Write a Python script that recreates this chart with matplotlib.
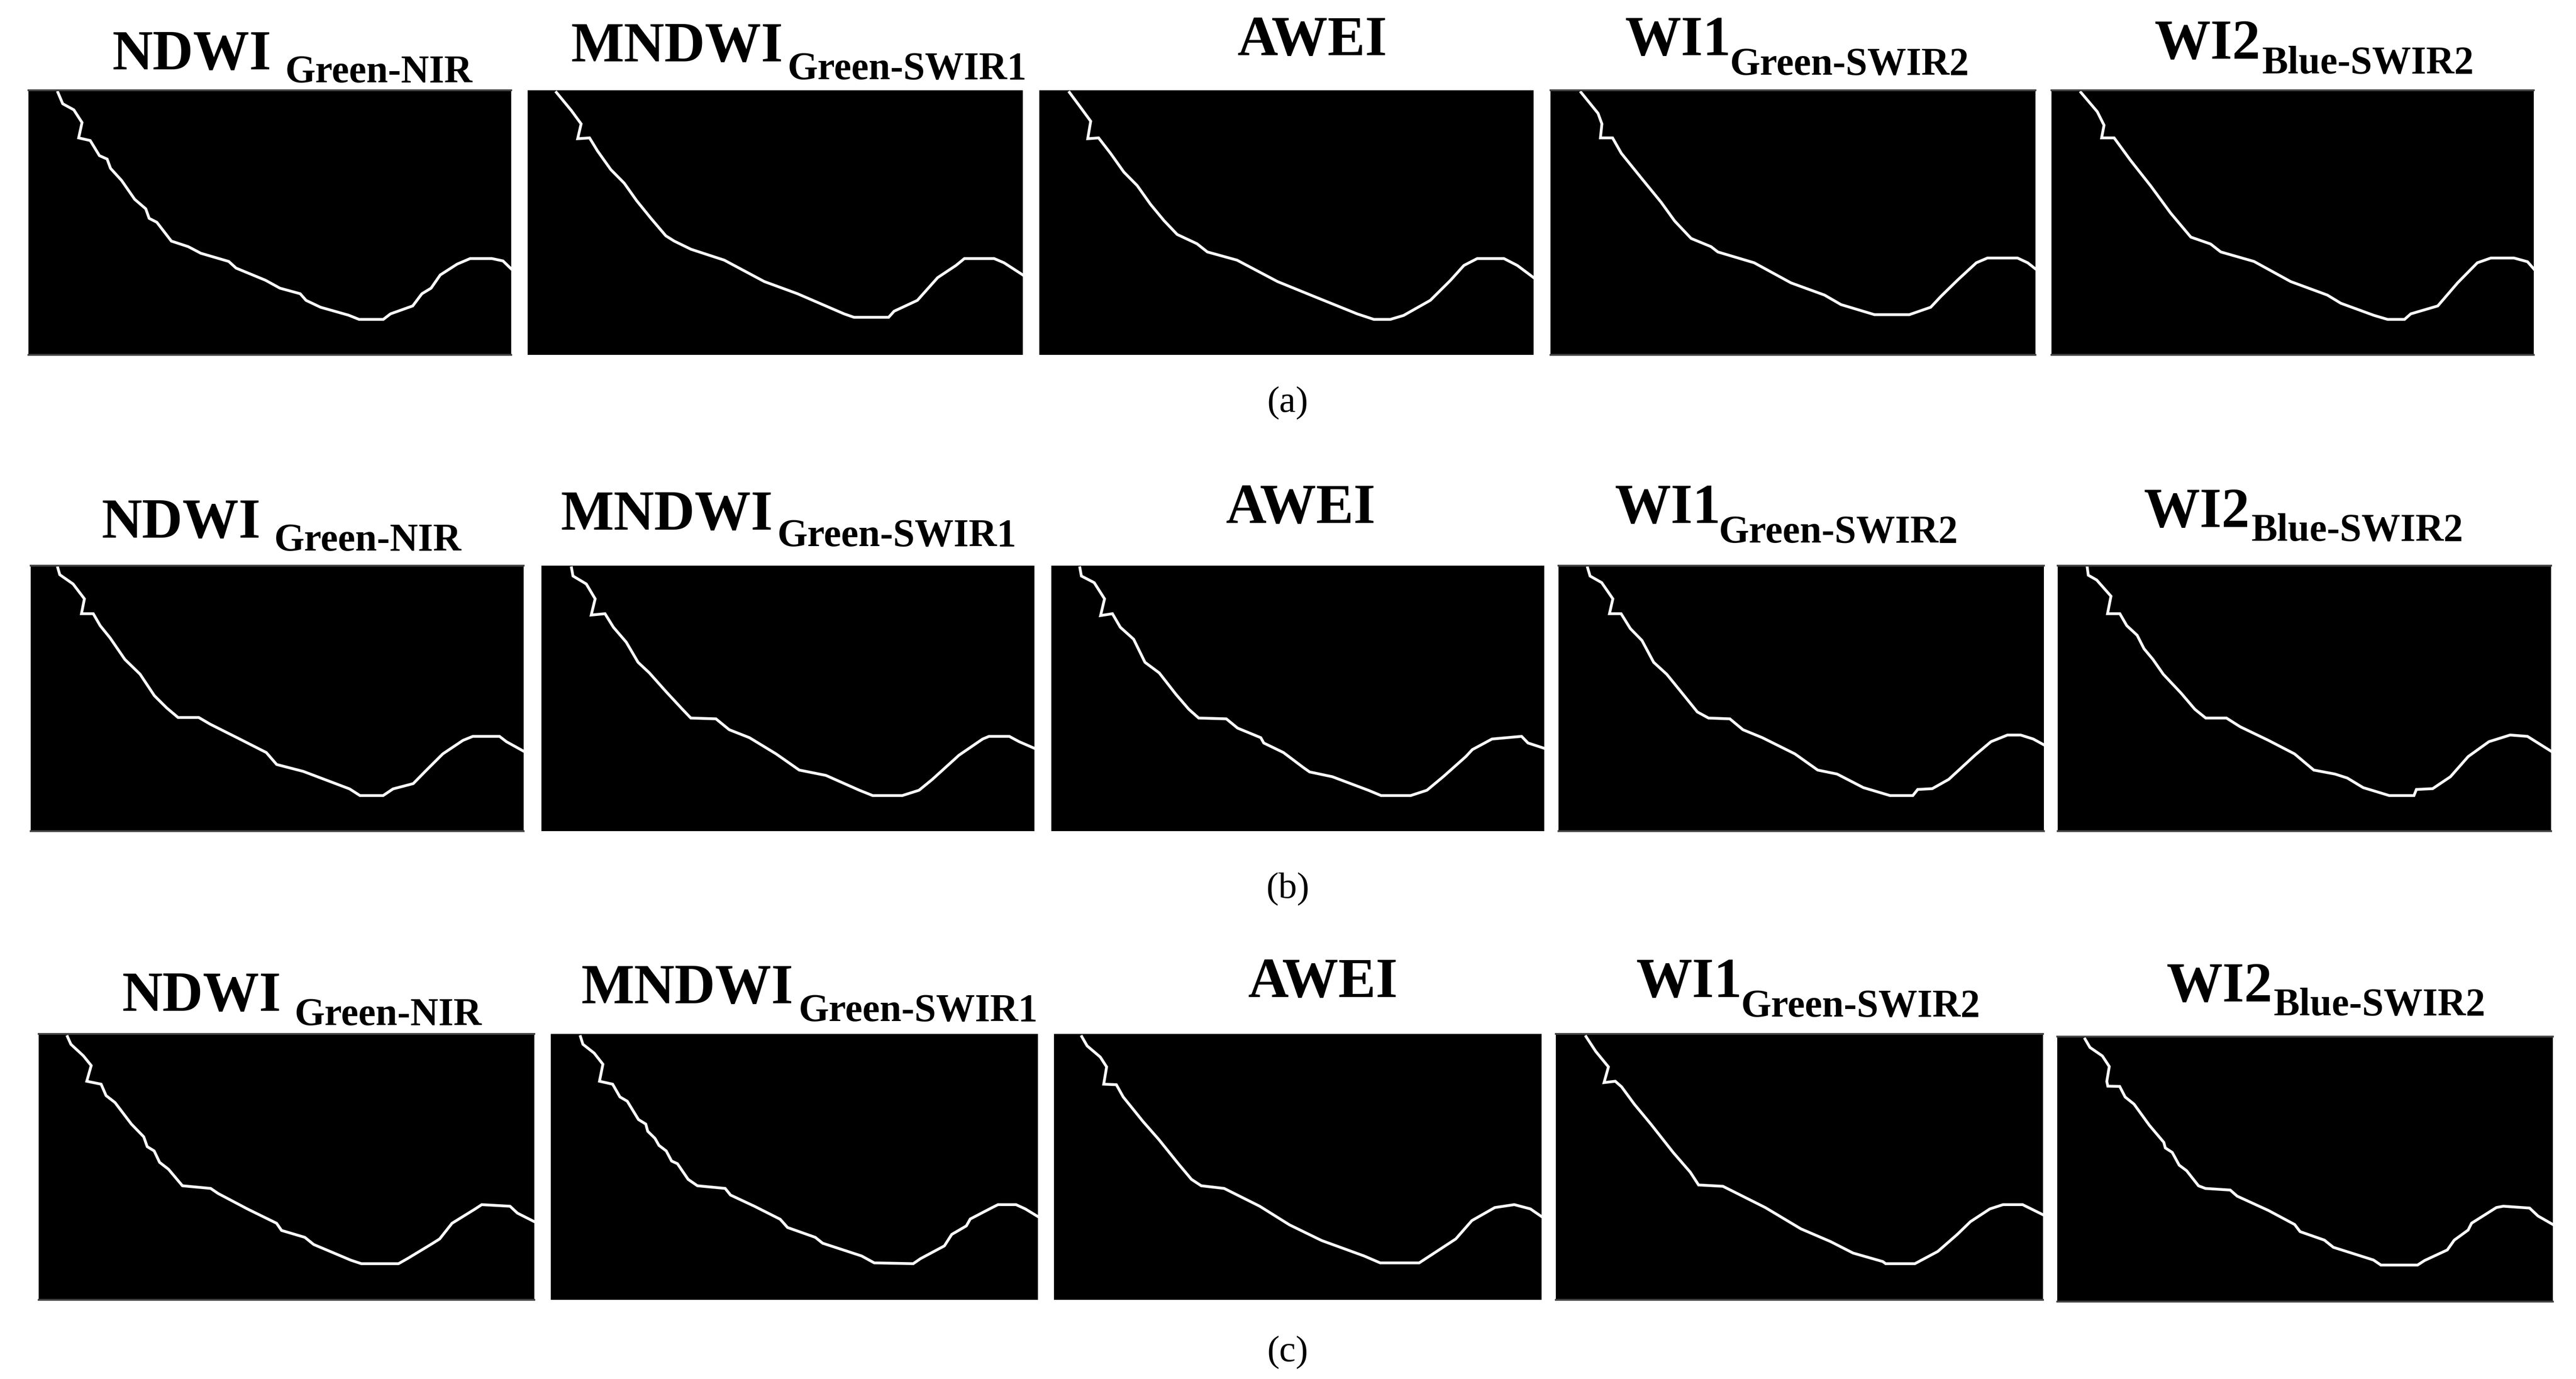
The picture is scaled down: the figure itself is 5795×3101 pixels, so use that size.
import matplotlib
matplotlib.use("Agg")
import matplotlib.pyplot as plt

# shoreline traces, in percent of panel width / height (y down)
a1_x = [6.1,7.1,9.4,11.1,10.4,12.8,14.7,16.3,17.0,19.3,22.0,24.3,25.0,26.6,29.6,33.1,35.7,41.5,43.0,49.1,52.1,56.3,57.5,60.5,66.3,68.5,73.5,75.0,79.6,81.5,83.4,85.3,88.8,91.5,96.0,98.3,100]
a1_y = [0.8,5.1,7.4,12.2,18.0,19.0,24.7,26.0,29.5,34.1,41.2,44.8,48.4,49.9,57.0,59.1,61.6,64.7,67.2,71.8,74.8,76.9,79.4,82.0,85.0,86.6,86.6,84.5,81.5,76.9,74.8,69.8,65.7,63.6,63.6,64.5,67.5]
a2_x = [5.8,8.8,10.8,10.1,12.5,14.1,16.8,19.5,22.0,24.9,27.9,29.6,33.0,39.7,47.8,54.5,63.9,65.9,72.9,74.0,78.7,82.8,86.5,88.2,94.2,96.2,100]
a2_y = [0.8,7.6,12.7,18.3,18.0,22.9,30.0,35.1,41.7,48.4,55.0,57.0,60.1,64.2,72.3,76.9,84.5,85.8,85.8,83.5,79.4,70.8,66.2,63.6,63.6,65.2,69.8]
a3_x = [6.1,8.4,10.4,9.8,12.0,14.4,17.1,19.8,22.5,25.2,27.9,31.9,34.0,40.0,48.2,54.9,64.3,67.7,71.0,73.7,79.1,83.2,85.9,88.6,94.0,96.7,100]
a3_y = [0.8,6.6,11.7,18.3,18.0,23.8,30.9,36.0,43.1,49.2,54.5,58.0,61.1,64.2,72.3,77.4,84.5,86.6,86.6,85.1,79.4,71.8,66.2,63.6,63.6,66.2,70.8]
a4_x = [6.3,9.8,10.6,10.3,12.8,14.6,18.7,22.8,25.6,29.0,33.1,34.5,42.0,49.6,56.5,59.9,66.8,74.0,78.4,80.5,83.9,87.8,90.1,96.3,98.4,100]
a4_y = [0.8,8.7,12.7,18.0,18.0,23.8,33.1,42.3,49.4,56.0,59.1,61.1,65.2,72.8,77.4,81.0,84.8,84.8,82.0,77.9,71.8,65.2,63.4,63.4,65.2,67.5]
a5_x = [6.1,9.5,10.9,10.4,13.0,16.4,20.6,24.7,28.9,33.0,35.1,42.0,49.6,57.2,60.0,66.9,69.7,73.2,74.5,80.1,84.2,88.3,91.1,95.9,98.7,100]
a5_y = [0.8,8.1,13.2,18.0,18.0,26.5,36.2,46.4,55.5,58.1,61.1,64.7,72.3,77.4,80.5,85.1,86.6,86.6,84.5,81.5,72.8,65.2,63.4,63.4,64.8,67.5]

b1_x = [5.5,5.9,8.6,10.9,10.3,12.7,14.1,16.1,19.1,22.2,25.1,27.6,29.9,34.1,36.4,42.4,47.8,49.9,55.3,64.7,66.8,71.5,73.5,77.6,80.3,83.6,87.7,89.7,95.1,96.5,100]
b1_y = [0.8,3.4,6.9,12.5,18.1,18.1,22.6,27.2,35.3,40.9,49.0,53.6,57.2,57.2,59.7,65.3,70.4,74.9,77.5,84.1,86.6,86.6,84.1,82.1,77.0,70.9,65.8,64.3,64.3,66.3,69.9]
b2_x = [6.1,6.4,9.1,10.9,10.1,12.9,14.6,17.2,19.6,21.9,25.3,28.6,30.3,35.4,38.1,42.2,47.6,52.3,57.7,64.5,67.2,73.2,76.6,79.3,84.7,89.5,90.8,94.9,96.9,100]
b2_y = [0.8,3.9,6.9,12.5,18.6,18.1,23.2,28.8,36.4,40.4,47.5,54.1,57.4,57.7,61.8,64.8,70.9,77.0,79.0,84.6,86.6,86.6,84.6,80.5,71.4,65.3,64.3,64.3,66.3,68.8]
b3_x = [5.8,6.1,8.7,10.8,10.0,12.4,14.0,16.7,19.0,21.9,25.3,27.9,29.9,35.5,37.8,42.5,43.1,47.1,51.1,52.4,57.0,64.3,66.9,72.9,76.2,79.5,84.1,85.4,89.4,95.4,96.7,100]
b3_y = [0.8,3.9,6.4,12.5,18.8,18.1,23.2,27.7,36.4,40.4,48.5,54.1,57.4,57.7,61.2,64.8,66.8,70.4,76.0,77.7,79.5,84.6,86.6,86.6,84.6,79.5,71.9,69.3,65.3,64.3,66.8,68.8]
b4_x = [6.0,6.5,8.9,11.2,10.5,12.9,14.8,17.2,19.6,22.3,25.9,28.6,30.9,35.3,38.0,42.0,48.7,53.4,57.4,62.8,68.3,73.0,74.0,77.0,80.4,85.8,89.1,92.5,95.2,97.8,100]
b4_y = [0.8,3.9,6.4,12.5,18.1,18.1,23.7,28.2,36.4,40.9,49.0,55.1,57.4,57.7,61.8,64.8,70.9,77.0,78.5,83.6,86.6,86.6,84.3,84.0,80.5,71.4,66.3,63.8,63.8,65.3,67.5]
b5_x = [6.0,6.2,7.9,10.8,10.1,12.6,14.0,16.1,17.5,19.3,21.4,25.0,27.8,30.0,34.2,37.0,42.7,48.0,51.9,56.2,58.7,61.9,67.2,72.2,72.7,76.0,79.6,83.2,87.4,91.7,95.2,100]
b5_y = [0.8,3.6,5.4,11.5,18.1,18.1,22.6,26.2,31.3,35.3,40.9,48.0,54.1,57.4,57.4,60.7,65.8,70.9,77.0,78.5,80.0,83.6,86.6,86.6,84.3,84.0,79.5,71.9,66.3,63.8,64.3,69.9]

c1_x = [5.8,6.5,9.0,10.6,9.7,12.6,13.6,15.4,18.7,21.2,21.9,23.3,24.4,26.2,29.0,34.7,36.2,42.2,48.0,49.0,53.7,55.5,63.0,65.1,72.6,74.4,79.1,80.9,83.4,88.0,89.4,95.1,96.6,100]
c1_y = [1.0,3.9,8.2,11.9,17.8,18.9,23.2,25.8,33.9,38.7,42.4,44.0,48.3,50.9,57.1,58.1,60.0,65.9,71.2,73.9,76.5,79.2,85.1,86.4,86.4,84.5,79.2,77.1,71.2,65.9,64.2,64.8,67.4,70.6]
c2_x = [6.1,6.6,8.9,10.7,10.0,12.7,14.2,15.7,18.0,19.5,19.9,21.4,22.2,23.7,24.8,26.0,28.2,30.1,35.8,36.9,41.8,47.1,48.6,54.3,55.8,63.8,66.4,74.4,75.9,80.8,82.3,85.3,86.1,90.6,91.8,95.5,97.4,100]
c2_y = [1.0,3.9,7.2,11.4,17.8,18.9,23.7,25.3,32.2,33.9,36.6,39.3,41.9,44.0,47.8,48.8,54.7,57.1,58.1,60.6,64.8,69.7,72.8,76.5,78.7,83.5,86.1,86.4,84.5,79.7,75.4,72.2,69.6,65.3,64.2,64.2,65.8,68.7]
c3_x = [5.7,6.8,9.5,10.8,10.2,12.8,14.2,16.8,18.2,21.5,25.5,28.2,30.2,34.9,42.2,48.3,54.9,63.6,66.9,74.9,82.4,85.7,90.4,94.4,97.7,100]
c3_y = [1.0,4.5,8.7,12.4,18.9,19.1,23.7,29.6,32.8,39.7,48.8,54.7,57.1,58.1,64.8,71.8,77.7,83.5,86.1,86.1,77.1,70.2,65.3,64.2,65.8,68.7]
c4_x = [6.2,8.2,10.8,9.9,12.2,13.5,16.1,19.5,24.1,27.6,29.3,34.3,43.0,50.3,56.4,61.0,67.1,67.7,73.7,78.4,82.4,85.1,89.1,91.8,95.8,100]
c4_y = [1.0,6.6,12.4,18.3,17.8,19.9,26.4,33.9,44.6,52.0,56.8,57.3,65.3,73.3,78.1,82.4,85.6,86.4,86.4,81.8,75.4,70.6,65.8,64.2,64.2,68.0]
c5_x = [5.6,6.6,9.1,10.5,10.0,10.2,12.6,13.7,15.5,18.6,21.5,21.8,23.2,24.6,26.1,28.5,29.9,34.9,36.3,42.6,47.9,49.0,53.9,55.7,63.8,65.3,72.7,74.1,78.7,80.1,82.9,83.6,88.6,90.0,95.3,97.0,100]
c5_y = [0.9,4.1,7.3,11.3,16.9,18.7,18.8,22.8,25.5,33.5,39.9,42.0,43.7,48.5,50.6,56.3,57.3,57.9,60.2,65.6,70.9,73.6,76.8,79.5,84.3,86.2,86.2,84.5,80.5,76.8,73.0,70.4,64.5,64.0,64.7,67.7,70.9]

main_labels = ["NDWI", "MNDWI", "AWEI", "WI1", "WI2"]
sub_labels = ["Green-NIR", "Green-SWIR1", "", "Green-SWIR2", "Blue-SWIR2"]
captions = ["(a)", "(b)", "(c)"]

W, H = 5795, 3101
DPI = 100
FONT = "Liberation Serif"

# panel boxes in image pixels: left, right, top, bottom
boxes = [
    [(64,1150,203,798), (1187,2301,203,798), (2338,3450,203,798), (3488,4579,203,798), (4615,5700,203,798)],
    [(69,1178,1272,1869), (1218,2327,1272,1869), (2365,3474,1272,1869), (3506,4598,1272,1869), (4629,5739,1272,1869)],
    [(87,1202,2325,2923), (1239,2335,2325,2923), (2371,3468,2325,2923), (3500,4596,2325,2923), (4628,5743,2331,2927)],
]
# main label x, main baseline, sub label x, sub baseline
label_pos = [
    [(253,156,642,182), (1285,138,1772,175), (2784,124,0,0), (3655,124,3892,165), (4846,132,5089,161)],
    [(229,1209,617,1235), (1262,1191,1749,1226), (2758,1176,0,0), (3632,1176,3867,1217), (4822,1185,5064,1212)],
    [(275,2273,663,2302), (1308,2256,1797,2293), (2808,2242,0,0), (3680,2242,3917,2284), (4873,2252,5115,2279)],
]
caption_pos = [(2897,907), (2897,2000), (2897,3042)]
# panels whose top and bottom rows came out dark grey in the source image
grey_edge = [True, False, False, True, True]

traces = [
    [(a1_x,a1_y), (a2_x,a2_y), (a3_x,a3_y), (a4_x,a4_y), (a5_x,a5_y)],
    [(b1_x,b1_y), (b2_x,b2_y), (b3_x,b3_y), (b4_x,b4_y), (b5_x,b5_y)],
    [(c1_x,c1_y), (c2_x,c2_y), (c3_x,c3_y), (c4_x,c4_y), (c5_x,c5_y)],
]

fig = plt.figure(figsize=(W / DPI, H / DPI), dpi=DPI, facecolor="white")


def put_text(x, y, s, size, weight="bold", **kw):
    fig.text(x / W, 1 - y / H, s, fontsize=size, fontweight=weight,
             family=FONT, color="black", **kw)


for r in range(3):
    for c in range(5):
        left, right, top, bottom = boxes[r][c]
        ax = fig.add_axes([left / W, 1 - bottom / H, (right - left) / W, (bottom - top) / H])
        ax.set_facecolor("black")
        ax.set_xlim(0, 100)
        ax.set_ylim(100, 0)
        ax.set_xticks([])
        ax.set_yticks([])
        x, y = traces[r][c]
        ax.plot(x, y, color="white", lw=4.5, solid_joinstyle="miter")
        for name, sp in ax.spines.items():
            sp.set_visible(grey_edge[c] and name in ("top", "bottom"))
            sp.set_color("#444444")
            sp.set_linewidth(3)

        mx, my, sx, sy = label_pos[r][c]
        put_text(mx, my, main_labels[c], 91, va="baseline")
        if sub_labels[c]:
            put_text(sx, sy + 3, sub_labels[c], 63, va="baseline")

for s, (x, y) in zip(captions, caption_pos):
    put_text(x, y, s, 60, weight="normal", ha="center", va="center")

fig.savefig("out.png", dpi=DPI)
